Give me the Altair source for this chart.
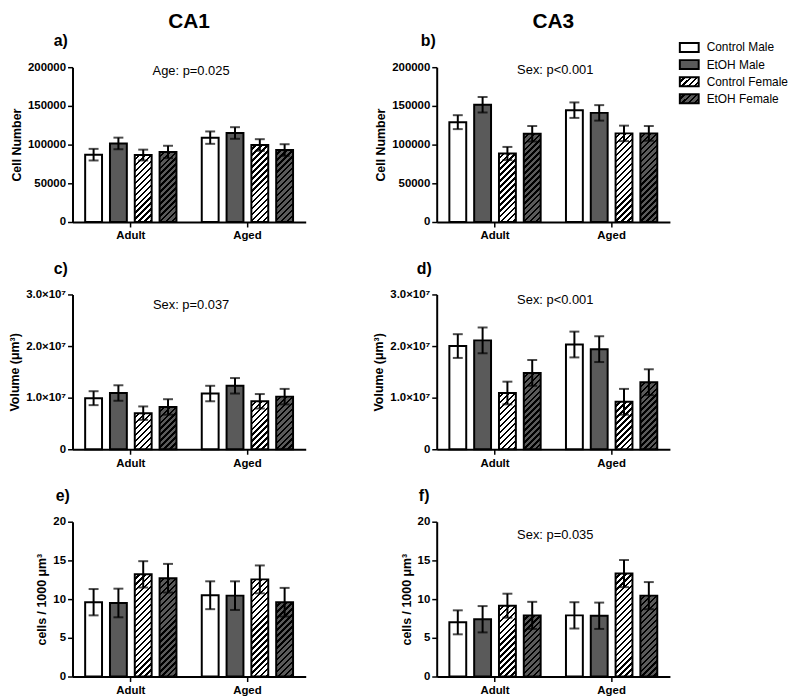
import altair as alt

# ---------------- data ----------------
ages = ["Adult", "Aged"]
series = ["Control Male", "EtOH Male", "Control Female", "EtOH Female"]
series_colors = ["#ffffff", "#5a5a5a", "#ffffff", "#5a5a5a"]
series_hatched = [False, False, True, True]

# order: Adult (CM, EM, CF, EF), Aged (CM, EM, CF, EF)
a_mean = [87000, 101500, 86500, 90500, 109000, 115000, 99500, 93000]
a_sem = [7500, 7500, 7000, 8000, 8000, 7500, 7500, 7500]
b_mean = [129000, 151500, 88500, 114000, 144500, 141000, 114500, 114500]
b_sem = [9000, 10000, 8500, 10000, 10000, 10000, 10000, 9500]
c_mean = [9.9e6, 10.9e6, 7.0e6, 8.2e6, 10.8e6, 12.3e6, 9.3e6, 10.2e6]
c_sem = [1.35e6, 1.5e6, 1.3e6, 1.5e6, 1.5e6, 1.5e6, 1.4e6, 1.5e6]
d_mean = [20.0e6, 21.1e6, 10.9e6, 14.8e6, 20.3e6, 19.4e6, 9.2e6, 13.0e6]
d_sem = [2.3e6, 2.5e6, 2.2e6, 2.5e6, 2.5e6, 2.5e6, 2.5e6, 2.5e6]
e_mean = [9.6, 9.5, 13.2, 12.7, 10.5, 10.45, 12.55, 9.6]
e_sem = [1.7, 1.85, 1.7, 1.85, 1.8, 1.85, 1.8, 1.85]
f_mean = [7.0, 7.4, 9.15, 7.9, 7.9, 7.85, 13.3, 10.45]
f_sem = [1.55, 1.7, 1.55, 1.75, 1.7, 1.7, 1.75, 1.75]

count_ticks = [0, 50000, 100000, 150000, 200000]
volume_ticks = [0, 1e7, 2e7, 3e7]
density_ticks = [0, 5, 10, 15, 20]

FONT = "Liberation Sans"
W, H = 235, 156
BAR_W = 17

AXIS_STYLE = dict(
    labelFont=FONT, labelFontWeight="bold", labelFontSize=11.5, labelColor="black",
    titleFont=FONT, titleFontWeight="bold", titleFontSize=12.5, titleColor="black",
    domainColor="black", domainWidth=2, tickColor="black", tickWidth=1.5,
    tickSize=5, grid=False, labelOverlap=False,
)


def hatch(bg, w, h, period=6.0, line=2.4):
    """Diagonal '/' stripes as a linear gradient with hard stops (bbox units)."""
    h = max(h, 1.0)
    L = w + h
    t = L / (w * w + h * h)
    x2, y2 = w * t, h * t
    stops = []
    f = 0.0
    while f < L:
        a = round(f / L, 5)
        b = round(min((f + period - line) / L, 1.0), 5)
        c = round(min((f + period) / L, 1.0), 5)
        stops += [
            {"offset": a, "color": bg},
            {"offset": b, "color": bg},
            {"offset": b, "color": "black"},
            {"offset": c, "color": "black"},
        ]
        f += period
    return {"gradient": "linear", "x1": 0, "y1": 0, "x2": round(x2, 5),
            "y2": round(y2, 5), "stops": stops}


def txt(t, x, y, size, bold=False, align="center"):
    return alt.Chart(alt.Data(values=[{"t": t}])).mark_text(
        font=FONT, fontSize=size, fontWeight="bold" if bold else "normal",
        align=align, baseline="middle", color="black"
    ).encode(x=alt.value(x), y=alt.value(y), text="t:N")


def panel(letter, letter_x, mean, sem, ymax, ticks, ytitle, label_expr,
          note, note_y, col_title=None, legend=False):
    recs = []
    for i, age in enumerate(ages):
        for j, s in enumerate(series):
            m = mean[i * 4 + j]
            e = sem[i * 4 + j]
            paint = (hatch(series_colors[j], BAR_W, m / ymax * H)
                     if series_hatched[j] else series_colors[j])
            recs.append({"age": age, "series": s, "mean": m,
                         "lo": m - e, "hi": m + e, "paint": paint})
    data = alt.Data(values=recs)

    xscale = alt.Scale(paddingInner=0, paddingOuter=0)
    xaxis = alt.Axis(labelAngle=0, labelPadding=3, **AXIS_STYLE)
    xenc = alt.X("age:N", sort=ages, title=None, scale=xscale, axis=xaxis)
    xo = alt.XOffset("series:N", sort=series,
                     scale=alt.Scale(paddingInner=0.32, paddingOuter=0.51))
    yscale = alt.Scale(domain=[0, ymax], nice=False)
    yaxis = alt.Axis(values=ticks, title=ytitle, labelExpr=label_expr,
                     titlePadding=4, labelPadding=2, **AXIS_STYLE)

    def yenc(field):
        return alt.Y(field, type="quantitative", scale=yscale, axis=yaxis,
                     title=ytitle, stack=None)

    bars = alt.Chart(data).mark_bar(stroke="black", strokeWidth=2).encode(
        x=xenc, xOffset=xo, y=yenc("mean"),
        fill=alt.Fill("paint:N", scale=None),
    )
    err = alt.Chart(data).mark_rule(color="black", strokeWidth=2).encode(
        x=xenc, xOffset=xo, y=yenc("lo"), y2="hi:Q")
    cap_hi = alt.Chart(data).mark_tick(color="black", thickness=2, size=10).encode(
        x=xenc, xOffset=xo, y=yenc("hi"))
    cap_lo = alt.Chart(data).mark_tick(color="black", thickness=2, size=10).encode(
        x=xenc, xOffset=xo, y=yenc("lo"))

    layers = [bars, err, cap_hi, cap_lo,
              txt(letter, letter_x, -26, 16, bold=True, align="left")]
    if note:
        layers.append(txt(note, W / 2 + 2, note_y, 13))
    if col_title:
        layers.append(txt(col_title, W / 2, -46, 21, bold=True))
    main = alt.layer(*layers)

    if not legend:
        return main.properties(width=W, height=H)

    leg_recs = []
    for j, s in enumerate(series):
        paint = hatch(series_colors[j], 18, 9) if series_hatched[j] else series_colors[j]
        leg_recs.append({"series": s, "paint": paint})
    leg_data = alt.Data(values=leg_recs)
    leg_y = alt.Y("series:N", sort=series, axis=None,
                  scale=alt.Scale(range=[-28.5, 40.5], paddingInner=0, paddingOuter=0))
    leg_box = alt.Chart(leg_data).mark_bar(size=9, stroke="black", strokeWidth=2).encode(
        x=alt.value(245), x2=alt.value(264), y=leg_y,
        fill=alt.Fill("paint:N", scale=None))
    leg_txt = alt.Chart(leg_data).mark_text(
        font=FONT, fontSize=12, align="left", baseline="middle", color="black"
    ).encode(x=alt.value(272), y=leg_y, text="series:N")
    leg = alt.layer(leg_box, leg_txt)
    return alt.layer(main, leg).resolve_scale(y="independent").properties(width=W, height=H)


plain = "format(datum.value, 'd')"
sci = "datum.value == 0 ? '0' : format(datum.value / 1e7, '.1f') + '×10⁷'"

pa = panel("a)", -19, a_mean, a_sem, 200000, count_ticks, "Cell Number", plain,
           "Age: p=0.025", 4, col_title="CA1")
pb = panel("b)", -16, b_mean, b_sem, 200000, count_ticks, "Cell Number", plain,
           "Sex: p<0.001", 3, col_title="CA3", legend=True)
pc = panel("c)", -19, c_mean, c_sem, 3e7, volume_ticks, "Volume (μm³)", sci,
           "Sex: p=0.037", 11)
pd = panel("d)", -20, d_mean, d_sem, 3e7, volume_ticks, "Volume (μm³)", sci,
           "Sex: p<0.001", 6)
pe = panel("e)", -17, e_mean, e_sem, 20, density_ticks, "cells / 1000 μm³", plain,
           None, 0)
pf = panel("f)", -18, f_mean, f_sem, 20, density_ticks, "cells / 1000 μm³", plain,
           "Sex: p=0.035", 13)

chart = alt.concat(
    pa, pb, pc, pd, pe, pf, columns=2, align="each",
    spacing={"row": 19, "column": 67},
).properties(
    padding={"left": 0, "top": 0, "right": 0, "bottom": 0}
).configure_view(stroke=None)

chart.save("out.html", embed_options={"renderer": "svg", "actions": False})
